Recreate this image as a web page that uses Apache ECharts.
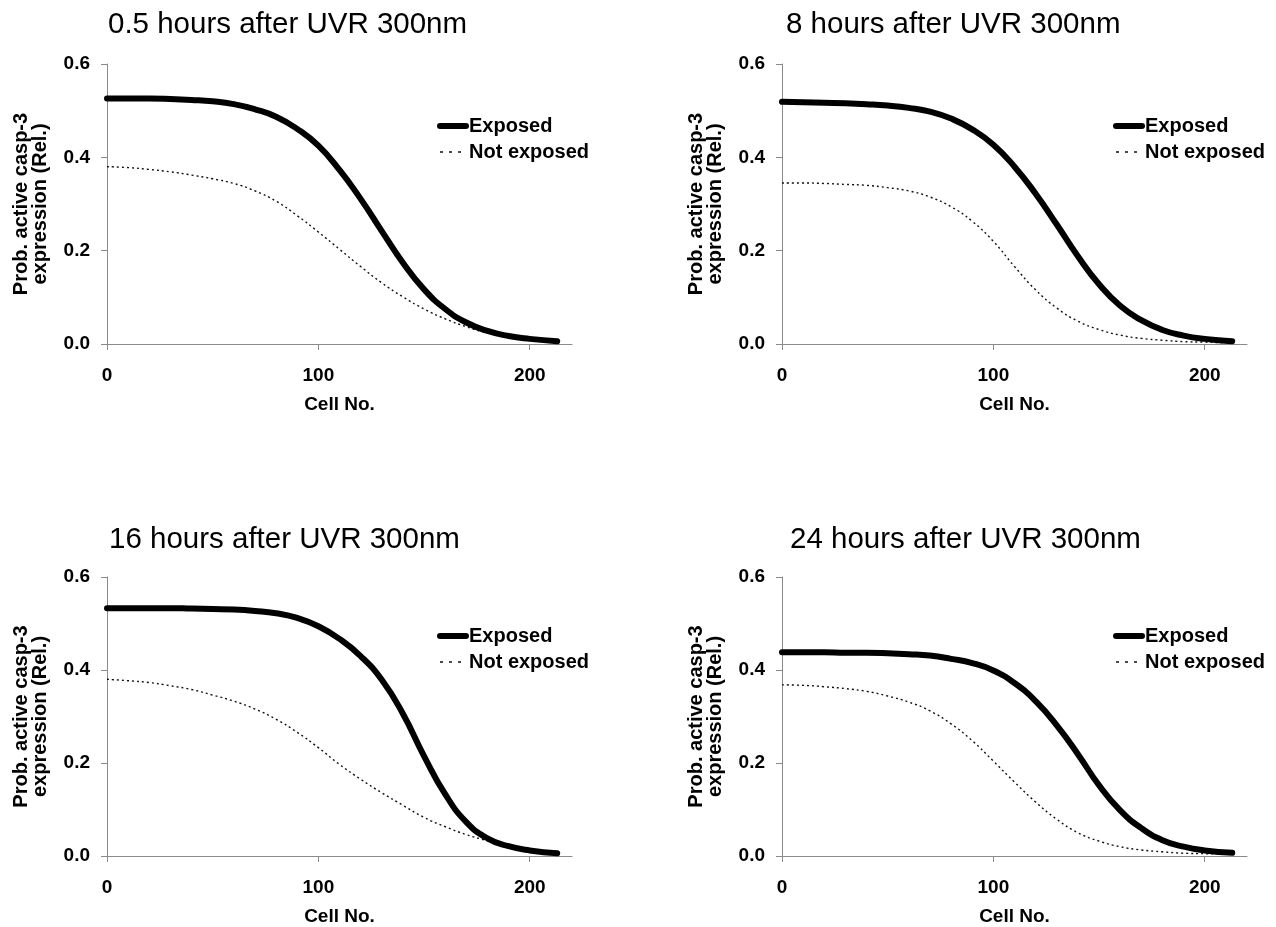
<!DOCTYPE html>
<html>
<head>
<meta charset="utf-8">
<script src="https://cdn.jsdelivr.net/npm/echarts@6/dist/echarts.min.js"></script>
<style>
html,body{margin:0;padding:0;background:#fff;}
#chart{width:1276px;height:927px;}
</style>
</head>
<body>
<div id="chart"></div>
<script>
// ---- data ----
const titles = [
  '0.5 hours after UVR 300nm',
  '8 hours after UVR 300nm',
  '16 hours after UVR 300nm',
  '24 hours after UVR 300nm'
];
const seriesNames = ['Exposed', 'Not exposed'];
const cells = [0, 10, 20, 30, 40, 50, 60, 70, 80, 90, 100, 110, 120, 130, 140, 150, 160, 170, 180, 190, 200, 213];

const exposed_h05    = [0.526, 0.526, 0.526, 0.525, 0.523, 0.520, 0.514, 0.503, 0.487, 0.461, 0.425, 0.373, 0.311, 0.242, 0.174, 0.117, 0.075, 0.046, 0.028, 0.017, 0.011, 0.006];
const notExposed_h05 = [0.380, 0.378, 0.374, 0.369, 0.362, 0.354, 0.344, 0.328, 0.306, 0.275, 0.240, 0.203, 0.166, 0.131, 0.101, 0.075, 0.054, 0.037, 0.024, 0.016, 0.010, 0.005];

const exposed_h08    = [0.519, 0.518, 0.517, 0.516, 0.514, 0.511, 0.506, 0.498, 0.483, 0.460, 0.427, 0.380, 0.322, 0.256, 0.188, 0.128, 0.082, 0.051, 0.030, 0.018, 0.011, 0.006];
const notExposed_h08 = [0.345, 0.345, 0.344, 0.342, 0.340, 0.335, 0.328, 0.315, 0.294, 0.263, 0.220, 0.166, 0.116, 0.077, 0.049, 0.031, 0.019, 0.012, 0.008, 0.005, 0.004, 0.002];

const exposed_h16    = [0.533, 0.533, 0.533, 0.533, 0.532, 0.531, 0.530, 0.527, 0.522, 0.512, 0.494, 0.467, 0.430, 0.379, 0.306, 0.215, 0.133, 0.073, 0.038, 0.021, 0.012, 0.006];
const notExposed_h16 = [0.380, 0.377, 0.373, 0.366, 0.358, 0.346, 0.333, 0.316, 0.294, 0.266, 0.233, 0.197, 0.165, 0.136, 0.109, 0.083, 0.063, 0.046, 0.033, 0.022, 0.012, 0.005];

const exposed_h24    = [0.438, 0.438, 0.438, 0.437, 0.437, 0.436, 0.434, 0.431, 0.424, 0.415, 0.399, 0.372, 0.333, 0.281, 0.219, 0.152, 0.098, 0.060, 0.034, 0.020, 0.012, 0.007];
const notExposed_h24 = [0.368, 0.367, 0.364, 0.360, 0.354, 0.344, 0.331, 0.312, 0.284, 0.248, 0.204, 0.159, 0.116, 0.079, 0.050, 0.032, 0.020, 0.013, 0.009, 0.006, 0.005, 0.004];

const xTicks = [0, 100, 200];
const yTicks = [0, 0.2, 0.4, 0.6];
const xLabel = 'Cell No.';
const yLabel = 'Prob. active casp-3\nexpression (Rel.)';

const panelData = [
  [exposed_h05, notExposed_h05],
  [exposed_h08, notExposed_h08],
  [exposed_h16, notExposed_h16],
  [exposed_h24, notExposed_h24]
];

// ---- layout ----
const FONT = '"Liberation Sans", Arial, Helvetica, sans-serif';
const AXIS_COLOR = '#8a8a8a';
const grids = [
  {left: 107, top: 64,  width: 465, height: 280},
  {left: 782, top: 64,  width: 465, height: 280},
  {left: 107, top: 577, width: 465, height: 279},
  {left: 782, top: 577, width: 465, height: 279}
];
const titlePos = [
  {left: 108, top: 10},
  {left: 786, top: 10},
  {left: 109, top: 525},
  {left: 790, top: 525}
];
const legendPos = [
  {left: 437, top: 116},
  {left: 1113, top: 116},
  {left: 437, top: 626},
  {left: 1113, top: 626}
];

const lineStyles = [
  {color: '#000', width: 6, type: 'solid', cap: 'round'},
  {color: '#111', width: 1.4, type: [2, 3]}
];
const legendLineStyles = [
  {color: '#000', width: 6, type: 'solid', cap: 'round'},
  {color: '#111', width: 1.4, type: [3, 6]}
];

const option = {
  backgroundColor: '#ffffff',
  animation: false,
  title: titles.map((t, i) => ({
    text: t,
    left: titlePos[i].left,
    top: titlePos[i].top,
    padding: 0,
    textStyle: {fontFamily: FONT, fontSize: 29.5, fontWeight: 'normal', color: '#000'}
  })),
  legend: legendPos.map((p, i) => ({
    data: seriesNames.map((n, k) => ({
      name: n + ' ' + i,
      lineStyle: legendLineStyles[k]
    })),
    formatter: name => name.replace(/ \d$/, ''),
    orient: 'vertical',
    left: p.left,
    top: p.top,
    padding: 0,
    itemGap: 6,
    itemWidth: 26,
    itemHeight: 14,
    selectedMode: false,
    itemStyle: {opacity: 0, borderWidth: 0},
    textStyle: {fontFamily: FONT, fontSize: 20, fontWeight: 'bold', color: '#000', padding: [0, 0, 0, -2]}
  })),
  grid: grids.map(g => Object.assign({outerBoundsMode: 'none', containLabel: false}, g)),
  xAxis: grids.map((g, i) => ({
    type: 'value',
    gridIndex: i,
    min: 0,
    max: 220,
    name: xLabel,
    nameLocation: 'middle',
    nameGap: 51,
    nameTextStyle: {fontFamily: FONT, fontSize: 19, fontWeight: 'bold', color: '#000'},
    axisLine: {show: true, lineStyle: {color: AXIS_COLOR, width: 1}},
    axisTick: {show: true, length: 6, customValues: xTicks, lineStyle: {color: AXIS_COLOR}},
    axisLabel: {customValues: xTicks, margin: 22, fontFamily: FONT, fontSize: 19, fontWeight: 'bold', color: '#000'},
    splitLine: {show: false}
  })),
  yAxis: grids.map((g, i) => ({
    type: 'value',
    gridIndex: i,
    min: 0,
    max: 0.6,
    interval: 0.2,
    name: yLabel,
    nameLocation: 'middle',
    nameGap: 57,
    nameTextStyle: {fontFamily: FONT, fontSize: 20, fontWeight: 'bold', color: '#000', lineHeight: 19},
    axisLine: {show: true, lineStyle: {color: AXIS_COLOR, width: 1}},
    axisTick: {show: true, length: 6, lineStyle: {color: AXIS_COLOR}},
    axisLabel: {margin: 17, fontFamily: FONT, fontSize: 19, fontWeight: 'bold', color: '#000',
      formatter: v => v.toFixed(1)},
    splitLine: {show: false}
  })),
  series: []
};

panelData.forEach((pair, i) => {
  pair.forEach((vals, k) => {
    option.series.push({
      type: 'line',
      name: seriesNames[k] + ' ' + i,
      xAxisIndex: i,
      yAxisIndex: i,
      data: cells.map((c, j) => [c, vals[j]]),
      smooth: 0.5,
      symbol: 'none',
      showSymbol: false,
      z: k === 0 ? 3 : 2,
      lineStyle: lineStyles[k],
      itemStyle: {color: lineStyles[k].color}
    });
  });
});

const chart = echarts.init(document.getElementById('chart'), null, {renderer: 'canvas'});
chart.setOption(option);
</script>
</body>
</html>
